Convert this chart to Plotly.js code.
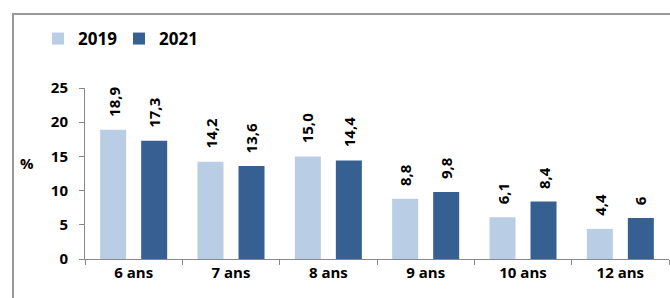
<!DOCTYPE html>
<html>
<head>
<meta charset="utf-8">
<script src="https://cdn.plot.ly/plotly-3.0.1.min.js"></script>
<style>
  html, body { margin: 0; padding: 0; background: #fff; }
  #wrap { position: relative; width: 670px; height: 298px; overflow: hidden; }
  #chart { width: 670px; height: 298px; }
  #frame { position: absolute; left: 12px; top: 13px; width: 700px; height: 320px;
           border: 2px solid #999; pointer-events: none; }
</style>
</head>
<body>
<div id="wrap"><div id="chart"></div><div id="frame"></div></div>
<script>
const categories = ["6 ans", "7 ans", "8 ans", "9 ans", "10 ans", "12 ans"];
const values2019 = [18.9, 14.2, 15.0, 8.8, 6.1, 4.4];
const values2021 = [17.3, 13.6, 14.4, 9.8, 8.4, 6];
const seriesNames = ["2019", "2021"];
const yTicks = [0, 5, 10, 15, 20, 25];

const labels2019 = values2019.map(v => v.toFixed(1).replace(".", ","));
const labels2021 = values2021.map(v => String(v).replace(".", ","));

const FONT = "'Open Sans', 'DejaVu Sans', sans-serif";
const c2019 = "#B9CDE5";
const c2021 = "#376092";

const traces = [
  { type: "bar", name: seriesNames[0], x: categories, y: values2019,
    marker: { color: c2019 }, hoverinfo: "none" },
  { type: "bar", name: seriesNames[1], x: categories, y: values2021,
    marker: { color: c2021 }, hoverinfo: "none" }
];

const annotations = [];
function addLabels(vals, labs, offset) {
  vals.forEach((v, i) => {
    annotations.push({
      x: i + offset, y: v, xref: "x", yref: "y",
      text: labs[i], textangle: -90, showarrow: false,
      xanchor: "center", yanchor: "bottom", yshift: 11,
      font: { family: FONT, size: 15, color: "#000", weight: "bold" }
    });
  });
}
addLabels(values2019, labels2019, -0.21);
addLabels(values2021, labels2021, 0.21);

annotations.push({
  text: "%", xref: "paper", yref: "paper", x: (27 - 85) / 584, y: (259 - 163) / 171,
  xanchor: "center", yanchor: "middle", showarrow: false,
  font: { family: FONT, size: 15, color: "#000", weight: "bold" }
});

const layout = {
  width: 670, height: 298,
  margin: { l: 85, r: 1, t: 88, b: 39, pad: 0 },
  paper_bgcolor: "#fff", plot_bgcolor: "#fff",
  font: { family: FONT, size: 15, color: "#000", weight: "bold" },
  barmode: "group", bargap: 0.157, bargroupgap: 0.366,
  showlegend: true,
  legend: {
    orientation: "h", x: (38 - 85) / 584, y: (259 - 39) / 171,
    xanchor: "left", yanchor: "middle",
    font: { family: FONT, size: 17, color: "#000", weight: "bold" },
    bgcolor: "rgba(0,0,0,0)", itemwidth: 30, traceorder: "normal",
    entrywidth: 36, entrywidthmode: "pixels"
  },
  xaxis: {
    type: "category", showgrid: false, zeroline: false,
    showline: true, linecolor: "#888", linewidth: 1,
    ticks: "outside", tickson: "boundaries", ticklen: 5, tickcolor: "#888",
    tickfont: { family: FONT, size: 15, color: "#000", weight: "bold" },
    fixedrange: true
  },
  yaxis: {
    range: [0, 25], tickvals: yTicks, showgrid: false, zeroline: false,
    showline: true, linecolor: "#888", linewidth: 1,
    ticks: "outside", ticklen: 5, tickcolor: "#888",
    ticklabelstandoff: 8,
    tickfont: { family: FONT, size: 15, color: "#000", weight: "bold" },
    fixedrange: true
  },
  annotations: annotations
};

Plotly.newPlot("chart", traces, layout, { displayModeBar: false, staticPlot: true });
</script>
</body>
</html>
